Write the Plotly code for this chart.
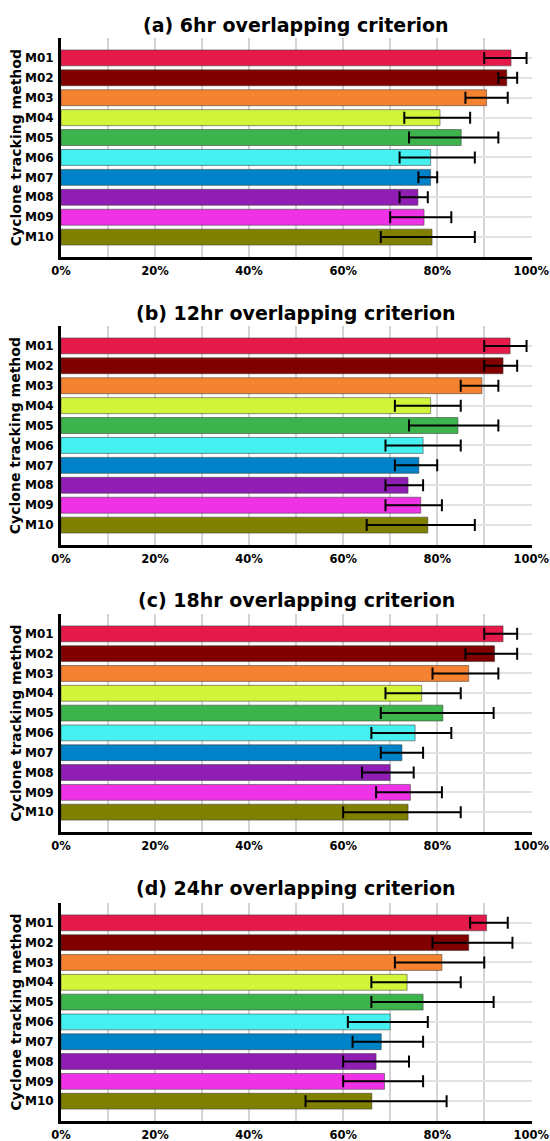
import plotly.graph_objects as go

methods = ["M01", "M02", "M03", "M04", "M05", "M06", "M07", "M08", "M09", "M10"]
colors = ["#e6194b", "#800000", "#f58231", "#d2f53c", "#3cb44b",
          "#46f0f0", "#0082c8", "#911eb4", "#f032e6", "#808000"]

titles = ["(a) 6hr overlapping criterion", "(b) 12hr overlapping criterion",
          "(c) 18hr overlapping criterion", "(d) 24hr overlapping criterion"]

val_6 = [95.7, 94.8, 90.5, 80.6, 85.1, 78.6, 78.6, 75.9, 77.2, 78.9]
low_6 = [90, 93, 86, 73, 74, 72, 76, 72, 70, 68]
high_6 = [99, 97, 95, 87, 93, 88, 80, 78, 83, 88]

val_12 = [95.5, 94.0, 89.5, 78.6, 84.4, 77.0, 76.1, 73.8, 76.5, 78.0]
low_12 = [90, 90, 85, 71, 74, 69, 71, 69, 69, 65]
high_12 = [99, 97, 93, 85, 93, 85, 80, 77, 81, 88]

val_18 = [94.0, 92.2, 86.7, 76.7, 81.2, 75.3, 72.5, 70.0, 74.3, 73.8]
low_18 = [90, 86, 79, 69, 68, 66, 68, 64, 67, 60]
high_18 = [97, 97, 93, 85, 92, 83, 77, 75, 81, 85]

val_24 = [90.5, 86.7, 81.0, 73.6, 77.0, 70.0, 68.1, 67.0, 68.8, 66.1]
low_24 = [87, 79, 71, 66, 66, 61, 62, 60, 60, 52]
high_24 = [95, 96, 90, 85, 92, 78, 77, 74, 77, 82]

x_tickvals = [0, 10, 20, 30, 40, 50, 60, 70, 80, 90, 100]
x_ticktext = ["0%", "", "20%", "", "40%", "", "60%", "", "80%", "", "100%"]

panels = [(val_6, low_6, high_6), (val_12, low_12, high_12),
          (val_18, low_18, high_18), (val_24, low_24, high_24)]

W, H = 550, 1141
x0, x1 = 61.0, 531.5
tops = [38, 326, 614, 903]
bottoms = [257, 545, 832, 1121]
title_y = [25, 313, 600, 888]

FONT = "DejaVu Sans"
fig = go.Figure()
annotations = []
for i, (vals, lows, highs) in enumerate(panels):
    n = "" if i == 0 else str(i + 1)
    plus = [h - v for h, v in zip(highs, vals)]
    minus = [v - l for v, l in zip(vals, lows)]
    fig.add_trace(go.Bar(
        x=vals, y=methods, orientation="h",
        marker=dict(color=colors, line=dict(color="rgba(60,60,60,0.55)", width=1)),
        width=0.8,
        error_x=dict(type="data", symmetric=False, array=plus, arrayminus=minus,
                     color="black", thickness=2, width=6),
        xaxis="x" + n, yaxis="y" + n, showlegend=False,
    ))
    fig.layout["xaxis" + n] = dict(
        domain=[x0 / W, x1 / W], anchor="y" + n, range=[0, 100.05],
        tickvals=x_tickvals, ticktext=x_ticktext, showgrid=True,
        gridcolor="#d4d4d4", gridwidth=2, zeroline=False,
        showline=True, linecolor="black", linewidth=3, automargin=False,
        ticks="", ticklabelstandoff=1,
        tickfont=dict(family=FONT, size=11.5, color="black", weight="bold"),
    )
    fig.layout["yaxis" + n] = dict(
        domain=[1 - bottoms[i] / H, 1 - tops[i] / H], anchor="x" + n,
        type="category", range=[10, -1], showgrid=True,
        gridcolor="#e2e2e2", gridwidth=1.5, zeroline=False,
        showline=True, linecolor="black", linewidth=3, automargin=False,
        ticks="", ticklabelstandoff=2,
        tickfont=dict(family=FONT, size=12, color="black", weight="bold"),
    )
    annotations.append(dict(
        text="<b>" + titles[i] + "</b>", xref="paper", yref="paper",
        x=(x0 + x1) / 2 / W, y=1 - title_y[i] / H, xanchor="center", yanchor="middle",
        showarrow=False, font=dict(family=FONT, size=19, color="black"),
    ))
    annotations.append(dict(
        text="<b>Cyclone tracking method</b>", xref="paper", yref="paper",
        x=15.7 / W, y=1 - (tops[i] + bottoms[i]) / 2 / H, xanchor="center", yanchor="middle",
        textangle=-90, showarrow=False, font=dict(family=FONT, size=14, color="black"),
    ))

fig.update_layout(
    width=W, height=H, margin=dict(l=0, r=0, t=0, b=0, autoexpand=False),
    paper_bgcolor="white", plot_bgcolor="white",
    annotations=annotations, bargap=0.2,
)
fig.write_html("out.html")
